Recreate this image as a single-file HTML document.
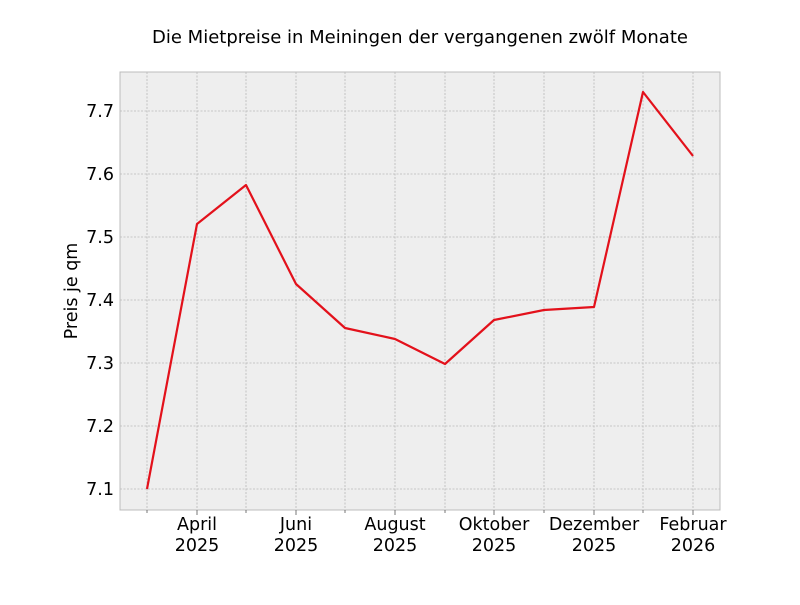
<!DOCTYPE html>
<html><head><meta charset="utf-8"><style>
body{margin:0;background:#fff;}
svg text{font-family:"DejaVu Sans","Liberation Sans",sans-serif;}
</style></head><body>
<svg width="800" height="600" xmlns="http://www.w3.org/2000/svg">
<rect x="0" y="0" width="800" height="600" fill="#fff"/>
<rect x="120" y="72" width="600" height="438" fill="#eeeeee"/>
<g stroke="#b8b8b8" stroke-width="0.8" stroke-dasharray="2,1.5">
<line x1="147" y1="72" x2="147" y2="510"/><line x1="197" y1="72" x2="197" y2="510"/>
<line x1="246" y1="72" x2="246" y2="510"/><line x1="296" y1="72" x2="296" y2="510"/>
<line x1="345" y1="72" x2="345" y2="510"/><line x1="395" y1="72" x2="395" y2="510"/>
<line x1="445" y1="72" x2="445" y2="510"/><line x1="494" y1="72" x2="494" y2="510"/>
<line x1="544" y1="72" x2="544" y2="510"/><line x1="594" y1="72" x2="594" y2="510"/>
<line x1="643" y1="72" x2="643" y2="510"/><line x1="693" y1="72" x2="693" y2="510"/>
<line x1="120" y1="489" x2="720" y2="489"/><line x1="120" y1="426" x2="720" y2="426"/>
<line x1="120" y1="363" x2="720" y2="363"/><line x1="120" y1="300" x2="720" y2="300"/>
<line x1="120" y1="237" x2="720" y2="237"/><line x1="120" y1="174" x2="720" y2="174"/>
<line x1="120" y1="111" x2="720" y2="111"/>
</g>
<rect x="120" y="72" width="600" height="438" fill="none" stroke="#bcbcbc" stroke-width="1"/>
<g stroke="#555" stroke-width="0.8">
<line x1="147" y1="510" x2="147" y2="513"/><line x1="197" y1="510" x2="197" y2="515"/>
<line x1="246" y1="510" x2="246" y2="513"/><line x1="296" y1="510" x2="296" y2="515"/>
<line x1="345" y1="510" x2="345" y2="513"/><line x1="395" y1="510" x2="395" y2="515"/>
<line x1="445" y1="510" x2="445" y2="513"/><line x1="494" y1="510" x2="494" y2="515"/>
<line x1="544" y1="510" x2="544" y2="513"/><line x1="594" y1="510" x2="594" y2="515"/>
<line x1="643" y1="510" x2="643" y2="513"/><line x1="693" y1="510" x2="693" y2="515"/>
</g>
<polyline fill="none" stroke="#e3111b" stroke-width="2.2" stroke-linejoin="round"
points="147,489 197,224 246,185 296,284 345,328 395,339 445,364 494,320 544,310 594,307 643,92 693,156"/>
<g font-size="17.5" fill="#000" text-anchor="end">
<text x="114" y="495">7.1</text><text x="114" y="432">7.2</text><text x="114" y="369">7.3</text>
<text x="114" y="306">7.4</text><text x="114" y="243">7.5</text><text x="114" y="180">7.6</text>
<text x="114" y="117">7.7</text>
</g>
<g font-size="17.5" fill="#000" text-anchor="middle">
<text x="197" y="530">April</text><text x="197" y="551">2025</text>
<text x="296" y="530">Juni</text><text x="296" y="551">2025</text>
<text x="395" y="530">August</text><text x="395" y="551">2025</text>
<text x="494" y="530">Oktober</text><text x="494" y="551">2025</text>
<text x="594" y="530">Dezember</text><text x="594" y="551">2025</text>
<text x="693" y="530">Februar</text><text x="693" y="551">2026</text>
</g>
<text x="420" y="43" font-size="18" text-anchor="middle">Die Mietpreise in Meiningen der vergangenen zwölf Monate</text>
<text transform="translate(77,291) rotate(-90)" font-size="17.5" text-anchor="middle">Preis je qm</text>
</svg>
</body></html>
